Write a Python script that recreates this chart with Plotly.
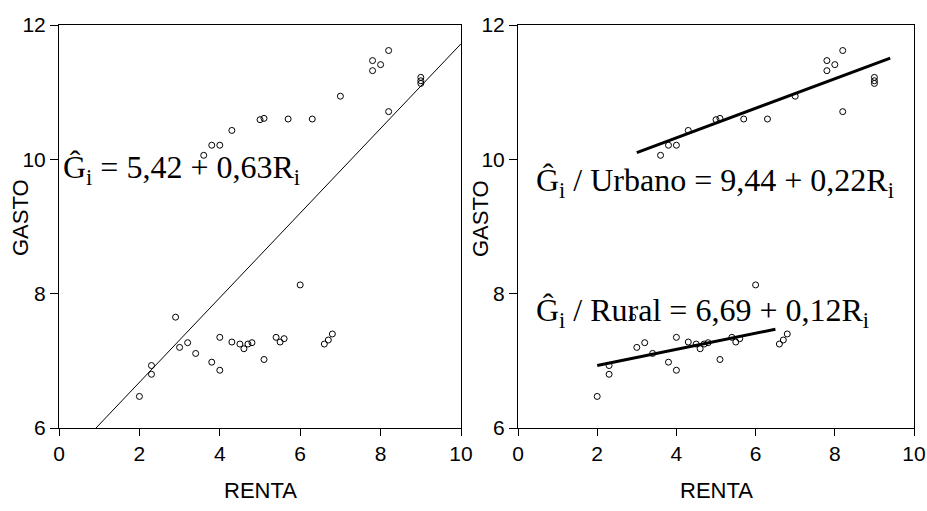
import numpy as np
import plotly.graph_objects as go

# Household income (RENTA) and spending (GASTO), split into urban and rural
urban_renta = [3.6, 3.8, 4.0, 4.3, 5.0, 5.1, 5.7, 6.3, 7.0, 7.8, 7.8, 8.0, 8.2, 8.2, 9.0, 9.0, 9.0]
urban_gasto = [10.06, 10.21, 10.21, 10.43, 10.59, 10.61, 10.60, 10.60, 10.94, 11.47, 11.32, 11.41, 11.62, 10.71, 11.22, 11.17, 11.13]

rural_renta = [2.0, 2.3, 2.3, 2.9, 3.0, 3.2, 3.4, 3.8, 4.0, 4.0, 4.3, 4.5, 4.6, 4.7, 4.8, 5.1, 5.4, 5.5, 5.6, 6.0, 6.6, 6.7, 6.8]
rural_gasto = [6.47, 6.93, 6.80, 7.65, 7.20, 7.27, 7.11, 6.98, 7.35, 6.86, 7.28, 7.25, 7.18, 7.25, 7.27, 7.02, 7.35, 7.28, 7.33, 8.13, 7.25, 7.31, 7.40]

# Fitted regressions: (intercept, slope) and the RENTA span each line covers
pooled_fit = (5.42, 0.63)
urban_fit = (9.44, 0.22)
rural_fit = (6.69, 0.12)
pooled_span = [0.0, 10.0]
urban_span = [3.0, 9.4]
rural_span = [2.0, 6.5]

x_ticks = [0, 2, 4, 6, 8, 10]
y_ticks = [6, 8, 10, 12]

all_renta = urban_renta + rural_renta
all_gasto = urban_gasto + rural_gasto


def fmt(v):
    return f"{v:.2f}".replace(".", ",")


def fit_line(coef, span):
    xs = np.array(span)
    return xs, coef[0] + coef[1] * xs


def equation(prefix, coef):
    return f"Ĝ<sub>i</sub>{prefix} = {fmt(coef[0])} + {fmt(coef[1])}R<sub>i</sub>"


fig = go.Figure()

marker = dict(symbol="circle-open", size=6, color="black", line=dict(width=1, color="black"))

# Left panel: pooled sample with a single regression line
fig.add_trace(go.Scatter(x=all_renta, y=all_gasto, mode="markers", marker=marker,
                         xaxis="x", yaxis="y", showlegend=False))
px, py = fit_line(pooled_fit, pooled_span)
fig.add_trace(go.Scatter(x=px, y=py, mode="lines", line=dict(color="black", width=1),
                         xaxis="x", yaxis="y", showlegend=False))

# Right panel: separate urban and rural fits
fig.add_trace(go.Scatter(x=all_renta, y=all_gasto, mode="markers", marker=marker,
                         xaxis="x2", yaxis="y2", showlegend=False))
ux, uy = fit_line(urban_fit, urban_span)
fig.add_trace(go.Scatter(x=ux, y=uy, mode="lines", line=dict(color="black", width=3),
                         xaxis="x2", yaxis="y2", showlegend=False))
rx, ry = fit_line(rural_fit, rural_span)
fig.add_trace(go.Scatter(x=rx, y=ry, mode="lines", line=dict(color="black", width=3),
                         xaxis="x2", yaxis="y2", showlegend=False))

tick_font = dict(family="Liberation Sans, Arial", size=21, color="black")

axis_common = dict(
    showgrid=False, zeroline=False, showline=True, linecolor="black", linewidth=1,
    mirror=True, ticks="outside", tickcolor="black", tickwidth=1,
    tickfont=tick_font, automargin=False,
)

y_dom = [1 - 428 / 511, 1 - 25 / 511]
fig.update_layout(
    width=927, height=511,
    margin=dict(l=0, r=0, t=0, b=0),
    paper_bgcolor="white", plot_bgcolor="white",
    xaxis=dict(domain=[59 / 927, 461 / 927], range=[0, 10], tickvals=x_ticks, ticklen=7,
               anchor="y", **axis_common),
    yaxis=dict(domain=y_dom, range=[6, 12], tickvals=y_ticks, ticklen=8,
               anchor="x", **axis_common),
    xaxis2=dict(domain=[518 / 927, 914 / 927], range=[0, 10], tickvals=x_ticks, ticklen=7,
                anchor="y2", **axis_common),
    yaxis2=dict(domain=y_dom, range=[6, 12], tickvals=y_ticks, ticklen=8,
                anchor="x2", **axis_common),
)

eq_font = dict(family="Liberation Serif, Times New Roman", size=32, color="black")
title_font = dict(family="Liberation Sans, Arial", size=22, color="black")

annotations = [
    dict(text=equation("", pooled_fit), xref="x", yref="y", x=0.06, y=9.85,
         xanchor="left", yanchor="middle", showarrow=False, font=eq_font),
    dict(text=equation(" / Urbano", urban_fit), xref="x2", yref="y2", x=0.40, y=9.66,
         xanchor="left", yanchor="middle", showarrow=False, font=eq_font),
    dict(text=equation(" / Rural", rural_fit), xref="x2", yref="y2", x=0.40, y=7.72,
         xanchor="left", yanchor="middle", showarrow=False, font=eq_font),
    # axis titles
    dict(text="RENTA", xref="paper", yref="paper", x=260 / 927, y=1 - 490 / 511,
         xanchor="center", yanchor="middle", showarrow=False, font=title_font),
    dict(text="RENTA", xref="paper", yref="paper", x=716 / 927, y=1 - 490 / 511,
         xanchor="center", yanchor="middle", showarrow=False, font=title_font),
    dict(text="GASTO", xref="paper", yref="paper", x=20 / 927, y=1 - 218 / 511,
         xanchor="center", yanchor="middle", showarrow=False, font=title_font, textangle=-90),
    dict(text="GASTO", xref="paper", yref="paper", x=480 / 927, y=1 - 218 / 511,
         xanchor="center", yanchor="middle", showarrow=False, font=title_font, textangle=-90),
]
fig.update_layout(annotations=annotations)

fig.write_html("out.html")
